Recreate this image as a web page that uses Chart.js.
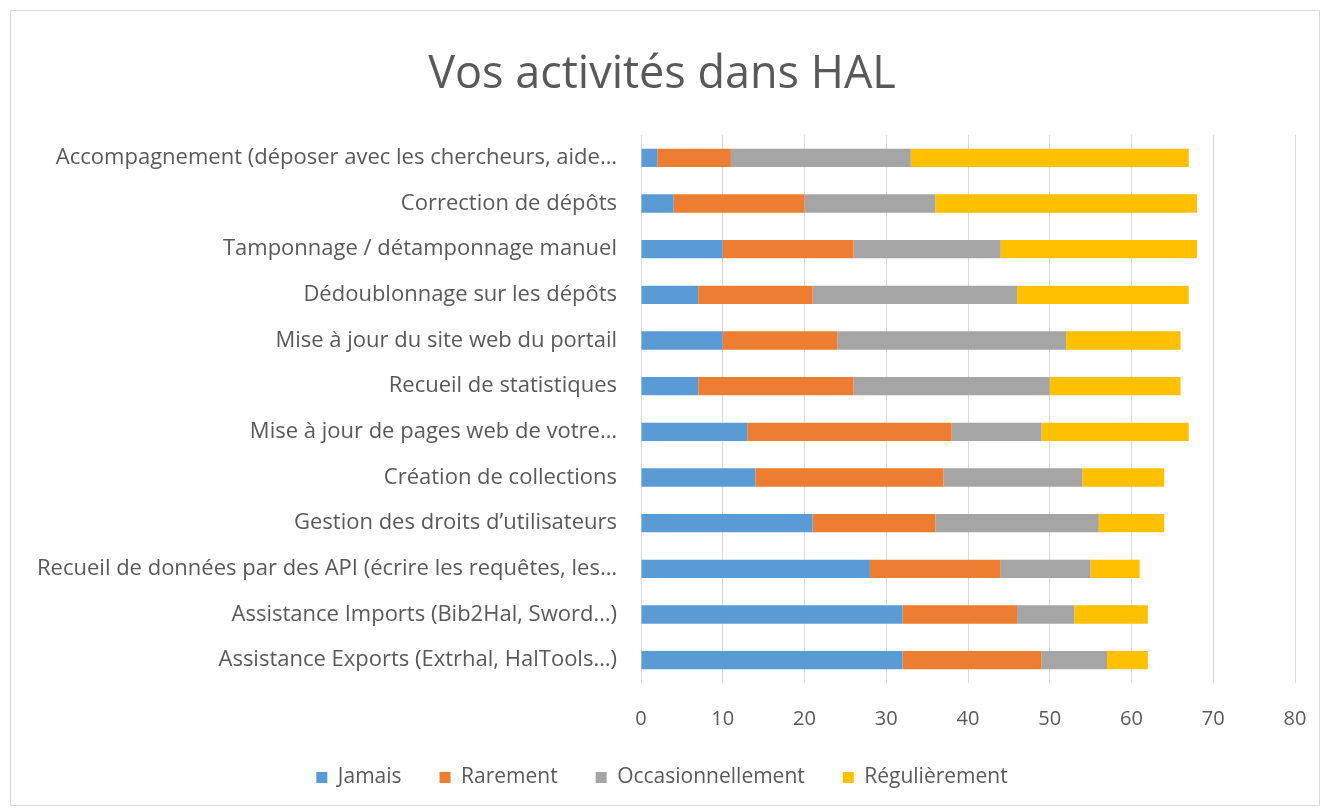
<!DOCTYPE html>
<html>
<head>
<meta charset="utf-8">
<script src="https://cdn.jsdelivr.net/npm/chart.js@4/dist/chart.umd.min.js"></script>
<style>
  html, body { margin: 0; padding: 0; background: #ffffff; }
  #frame {
    position: absolute; left: 10px; top: 10px;
    width: 1308px; height: 794px;
    border: 1px solid #d9d9d9;
  }
</style>
</head>
<body>
<div id="frame"><canvas id="chart" width="1308" height="794"></canvas></div>
<script>
var categories = [
    'Accompagnement (déposer avec les chercheurs, aide…',
    'Correction de dépôts',
    'Tamponnage / détamponnage manuel',
    'Dédoublonnage sur les dépôts',
    'Mise à jour du site web du portail',
    'Recueil de statistiques',
    'Mise à jour de pages web de votre…',
    'Création de collections',
    'Gestion des droits d’utilisateurs',
    'Recueil de données par des API (écrire les requêtes, les…',
    'Assistance Imports (Bib2Hal, Sword…)',
    'Assistance Exports (Extrhal, HalTools…)'
];
var jamais          = [2, 4, 10, 7, 10, 7, 13, 14, 21, 28, 32, 32];
var rarement        = [9, 16, 16, 14, 14, 19, 25, 23, 15, 16, 14, 17];
var occasionnellement = [22, 16, 18, 25, 28, 24, 11, 17, 20, 11, 7, 8];
var regulierement   = [34, 32, 24, 21, 14, 16, 18, 10, 8, 6, 9, 5];
var xTicks = [0, 10, 20, 30, 40, 50, 60, 70, 80];

var textColor = '#595959';
var fontFamily = '"Open Sans", Lato, sans-serif';

function series(label, data, color) {
    return {
        label: label,
        data: data,
        backgroundColor: color,
        borderWidth: 0,
        barPercentage: 0.4,
        categoryPercentage: 1.0
    };
}

new Chart(document.getElementById('chart'), {
    type: 'bar',
    data: {
        labels: categories,
        datasets: [
            series('Jamais', jamais, '#5B9BD5'),
            series('Rarement', rarement, '#ED7D31'),
            series('Occasionnellement', occasionnellement, '#A5A5A5'),
            series('Régulièrement', regulierement, '#FFC000')
        ]
    },
    options: {
        indexAxis: 'y',
        responsive: false,
        animation: false,
        layout: { padding: { left: 18, right: 24, top: 0, bottom: 7 } },
        scales: {
            x: {
                stacked: true,
                min: xTicks[0],
                max: xTicks[xTicks.length - 1],
                afterBuildTicks: function (scale) {
                    scale.ticks = xTicks.map(function (v) { return { value: v }; });
                },
                afterFit: function (scale) {
                    scale.height = 46;
                    scale.paddingLeft = 0;
                    scale.paddingRight = 0;
                },
                border: { display: false },
                grid: { color: '#d9d9d9', lineWidth: 1, drawTicks: false },
                ticks: {
                    color: textColor,
                    padding: 24,
                    font: { family: fontFamily, size: 20 }
                }
            },
            y: {
                stacked: true,
                afterFit: function (scale) { scale.width = 612; },
                border: { display: false },
                grid: { display: false, drawTicks: false },
                ticks: {
                    color: textColor,
                    padding: 24,
                    autoSkip: false,
                    font: { family: fontFamily, size: 22 }
                }
            }
        },
        plugins: {
            title: {
                display: true,
                text: 'Vos activités dans HAL',
                color: textColor,
                padding: { top: 37, bottom: 33 },
                font: { family: fontFamily, size: 45, weight: 'normal' }
            },
            legend: {
                position: 'bottom',
                labels: {
                    color: textColor,
                    boxWidth: 11,
                    boxHeight: 11,
                    padding: 38,
                    font: { family: fontFamily, size: 21 }
                }
            },
            tooltip: { enabled: false }
        }
    }
});
</script>
</body>
</html>
